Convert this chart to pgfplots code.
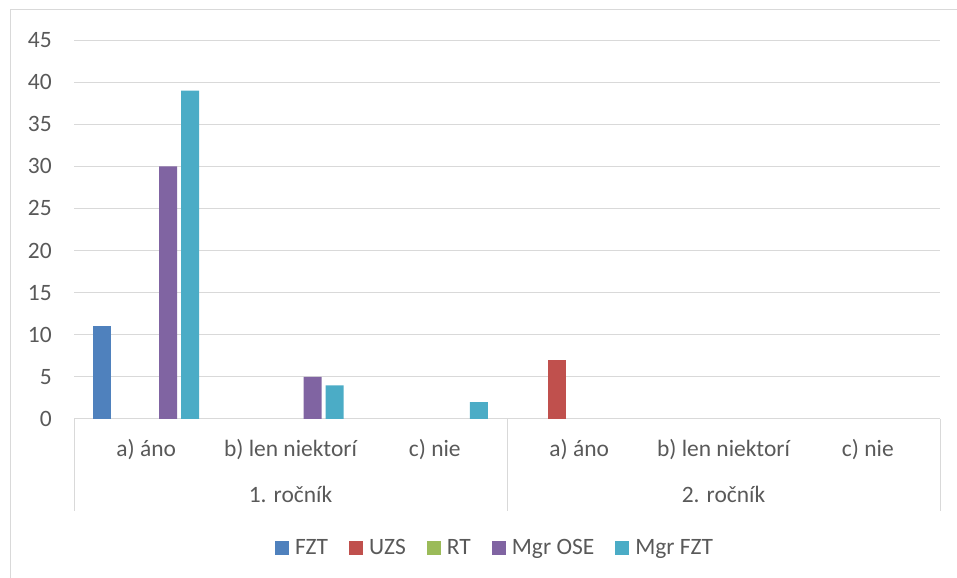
\documentclass[border=0pt]{standalone}
\usepackage{pgfplots}
\pgfplotsset{compat=1.18}
\usepackage{fontspec}
\setmainfont{Carlito}
\definecolor{txt}{HTML}{595959}
\definecolor{gridc}{HTML}{D9D9D9}
\definecolor{cFZT}{HTML}{4F81BD}
\definecolor{cUZS}{HTML}{C0504D}
\definecolor{cRT}{HTML}{9BBB59}
\definecolor{cOSE}{HTML}{8064A2}
\definecolor{cMFZT}{HTML}{4BACC6}
\newcommand\cf{\fontsize{17.6pt}{21pt}\selectfont}
\begin{document}
\begin{tikzpicture}
\useasboundingbox (0,0) rectangle (717.75pt,433.5pt);
\draw[gridc, line width=0.75pt] (7.5pt,0) -- (7.5pt,426pt) -- (717.75pt,426pt);
\begin{axis}[
  at={(55.5pt,119.25pt)}, anchor=south west,
  scale only axis, width=649.5pt, height=284.25pt,
  ybar=3pt, bar width=13.5pt,
  xmin=-0.5, xmax=5.5, ymin=0, ymax=45,
  ytick={0,5,...,45},
  xtick={0,1,2,3,4,5},
  xticklabels={a) áno, b) len niektorí, c) nie, a) áno, b) len niektorí, c) nie},
  major tick length=0pt,
  axis line style={draw=none},
  unbounded coords=discard,
  ymajorgrids, xmajorgrids=false, grid style={draw=gridc, line width=0.75pt},
  /pgf/number format/assume math mode=true,
  ticklabel style={font=\cf, text=txt},
  yticklabel style={anchor=east, inner sep=0pt, xshift=-16.5pt},
  xticklabel style={anchor=base, inner sep=0pt, yshift=-28.5pt},
  clip=false,
  legend columns=5,
  legend style={draw=none, fill=none, font=\cf, text=txt,
    at={(0.485,-0.3404)}, anchor=center,
    nodes={inner sep=0pt},
    /tikz/every odd column/.append style={column sep=4.5pt},
    /tikz/every even column/.append style={column sep=15.75pt}},
  legend image code/.code={\fill[#1] (0pt,-5.25pt) rectangle (10.5pt,5.25pt);},
]
\addplot[fill=cFZT, draw=none] coordinates {(0,11) (1,nan) (2,nan) (3,nan) (4,nan) (5,nan)};
\addplot[fill=cUZS, draw=none] coordinates {(0,nan) (1,nan) (2,nan) (3,7) (4,nan) (5,nan)};
\addplot[fill=cRT, draw=none, fill opacity=0,
  legend image code/.code={\fill[cRT, fill opacity=1, opacity=1] (0pt,-5.25pt) rectangle (10.5pt,5.25pt);}]
  coordinates {(0,0) (1,0) (2,0) (3,0) (4,0) (5,0)};
\addplot[fill=cOSE, draw=none] coordinates {(0,30) (1,5) (2,nan) (3,nan) (4,nan) (5,nan)};
\addplot[fill=cMFZT, draw=none] coordinates {(0,39) (1,4) (2,2) (3,nan) (4,nan) (5,nan)};
\legend{FZT, UZS, RT, Mgr OSE, Mgr FZT}
\draw[gridc, line width=0.75pt] (axis cs:-0.5,0) -- ([yshift=-69pt]axis cs:-0.5,0);
\draw[gridc, line width=0.75pt] (axis cs:2.5,0) -- ([yshift=-69pt]axis cs:2.5,0);
\draw[gridc, line width=0.75pt] (axis cs:5.5,0) -- ([yshift=-69pt]axis cs:5.5,0);
\node[anchor=base, font=\cf, text=txt, inner sep=0pt] at ([yshift=-63pt]axis cs:1,0) {1. ročník};
\node[anchor=base, font=\cf, text=txt, inner sep=0pt] at ([yshift=-63pt]axis cs:4,0) {2. ročník};
\end{axis}
\end{tikzpicture}
\end{document}
